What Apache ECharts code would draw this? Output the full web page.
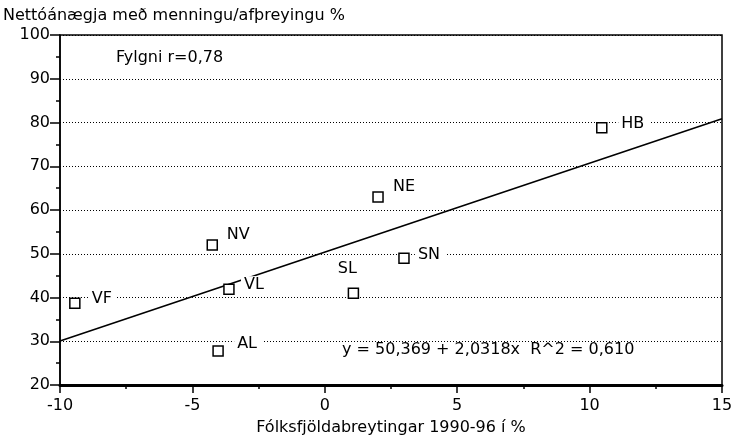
<!DOCTYPE html>
<html>
<head>
<meta charset="utf-8">
<script src="https://cdn.jsdelivr.net/npm/echarts@6/dist/echarts.min.js"></script>
<style>
html,body{margin:0;padding:0;background:#fff;}
#chart{width:732px;height:439px;}
</style>
</head>
<body>
<div id="chart"></div>
<script>
// ---- data ----
const regions = ['HB', 'NE', 'SN', 'SL', 'NV', 'VL', 'VF', 'AL'];
const popChange = [10.46, 2.01, 2.99, 1.08, -4.25, -3.62, -9.44, -4.03];   // x, %
const satisfaction = [78.8, 63.0, 49.0, 41.0, 52.0, 41.9, 38.7, 27.8];      // y, %
const fitIntercept = 50.369;
const fitSlope = 2.0318;
const xRange = [-10, 15];
const yRange = [20, 100];
const yTitle = 'Nettóánægja með menningu/afþreyingu %';
const xTitle = 'Fólksfjöldabreytingar 1990-96 í %';
const corrText = 'Fylgni r=0,78';
const eqText = 'y = 50,369 + 2,0318x  R^2 = 0,610';

// ---- label placement (styling only) ----
const labelOffset = {
  HB: [32, -4], NE: [27, -10], SN: [26, -3], SL: [-5, -24],
  NV: [27, -10], VL: [26, -4], VF: [28, -4], AL: [30, -7]
};

const FONT = 'DejaVu Sans';
const FS = 16;
const chart = echarts.init(document.getElementById('chart'), null, {renderer: 'canvas'});

const scatterData = regions.map((r, i) => ({name: r, value: [popChange[i], satisfaction[i]]}));
const fitLine = xRange.map(x => [x, fitIntercept + fitSlope * x]);

chart.setOption({
  animation: false,
  backgroundColor: '#fff',
  textStyle: {fontFamily: FONT, color: '#000'},
  grid: {left: 60, right: 10, top: 35, bottom: 54, containLabel: false, outerBoundsMode: 'none',
         show: true, borderColor: '#000', borderWidth: 1.5, backgroundColor: 'transparent'},
  xAxis: {
    type: 'value', min: xRange[0], max: xRange[1], interval: 5,
    name: xTitle, nameLocation: 'middle', nameGap: 35,
    nameTextStyle: {fontFamily: FONT, fontSize: FS, color: '#000'},
    axisLine: {show: true, onZero: false, lineStyle: {color: '#000', width: 3}},
    axisTick: {show: true, inside: false, length: 8, lineStyle: {color: '#000', width: 1.5}},
    minorTick: {show: true, splitNumber: 2, length: 4, lineStyle: {color: '#000', width: 1.5}},
    axisLabel: {fontFamily: FONT, fontSize: FS, color: '#000', margin: 13},
    splitLine: {show: false}
  },
  yAxis: {
    type: 'value', min: yRange[0], max: yRange[1], interval: 10,
    axisLine: {show: true, onZero: false, lineStyle: {color: '#000', width: 1.5}},
    axisTick: {show: true, inside: false, length: 10, lineStyle: {color: '#000', width: 1.5}},
    minorTick: {show: true, splitNumber: 2, length: 4, lineStyle: {color: '#000', width: 1.5}},
    axisLabel: {fontFamily: FONT, fontSize: FS, color: '#000', margin: 10},
    splitLine: {show: true, lineStyle: {color: '#000', width: 1, type: [1, 2]}}
  },
  series: [
    {
      type: 'line', data: fitLine, showSymbol: false, symbol: 'none',
      lineStyle: {color: '#000', width: 1.6}, z: 2, silent: true
    },
    {
      type: 'scatter', data: scatterData, symbol: 'rect', symbolSize: 10, z: 3,
      itemStyle: {color: '#fff', borderColor: '#000', borderWidth: 1.5, opacity: 1},
      label: {
        show: true, position: 'inside', formatter: '{b}',
        fontFamily: FONT, fontSize: FS, color: '#000',
        backgroundColor: '#fff', padding: [1, 5, 1, 3]
      },
      labelLayout: function (params) {
        const off = labelOffset[regions[params.dataIndex]] || [0, 0];
        return {dx: off[0], dy: off[1], hideOverlap: false};
      }
    }
  ],
  graphic: [
    {type: 'text', left: 3, top: 8, style: {text: yTitle, font: FS + 'px "DejaVu Sans"', fill: '#000'}},
    {type: 'text', left: 116, top: 50, style: {text: corrText, font: FS + 'px "DejaVu Sans"', fill: '#000'}},
    {type: 'text', left: 342, top: 342, z: 10, style: {text: eqText, font: FS + 'px "DejaVu Sans"', fill: '#000', backgroundColor: '#fff'}}
  ]
});
</script>
</body>
</html>
